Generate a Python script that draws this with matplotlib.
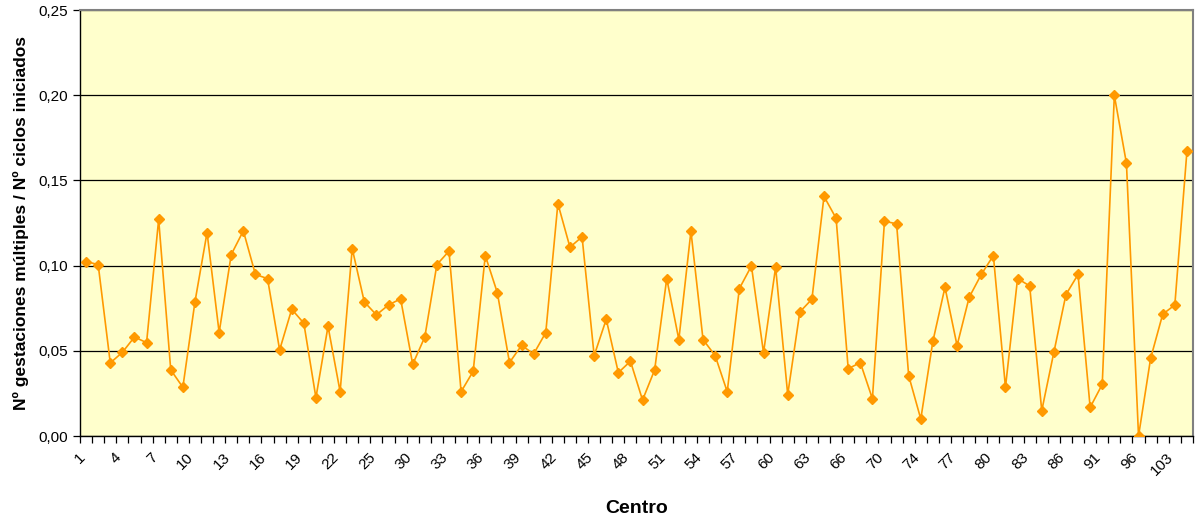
import matplotlib.pyplot as plt
import matplotlib.transforms as mtransforms
from matplotlib.ticker import FuncFormatter, MultipleLocator, FixedLocator

### Data ###
# labels shown on the x axis (Excel shows every third centre)
tick_labels = ["1", "4", "7", "10", "13", "16", "19", "22", "25", "30", "33",
               "36", "39", "42", "45", "48", "51", "54", "57", "60", "63", "66",
               "70", "74", "77", "80", "83", "86", "91", "96", "103"]

ratio = [0.1024, 0.1006, 0.0429, 0.0491, 0.0581, 0.0548, 0.1271, 0.0388,
         0.0286, 0.0787, 0.1194, 0.0607, 0.1065, 0.1204, 0.0948, 0.0924,
         0.0505, 0.0744, 0.0662, 0.0225, 0.0644, 0.0260, 0.1100, 0.0787,
         0.0711, 0.0769, 0.0805, 0.0421, 0.0581, 0.1006, 0.1085, 0.0260,
         0.0380, 0.1059, 0.0840, 0.0431, 0.0532, 0.0482, 0.0607, 0.1364,
         0.1108, 0.1169, 0.0472, 0.0685, 0.0372, 0.0439, 0.0211, 0.0388,
         0.0924, 0.0566, 0.1202, 0.0566, 0.0472, 0.0260, 0.0865, 0.0998,
         0.0489, 0.0991, 0.0243, 0.0728, 0.0803, 0.1406, 0.1278, 0.0395,
         0.0431, 0.0219, 0.1261, 0.1245, 0.0354, 0.0100, 0.0556, 0.0873,
         0.0531, 0.0814, 0.0948, 0.1059, 0.0286, 0.0924, 0.0881, 0.0149,
         0.0491, 0.0830, 0.0948, 0.0168, 0.0303, 0.1999, 0.1601, 0.0000,
         0.0456, 0.0715, 0.0769, 0.1670]
##############

plt.rcParams['font.family'] = ['Liberation Sans', 'DejaVu Sans']

n = len(ratio)
x = list(range(n))

fig = plt.figure(figsize=(11.98, 5.21), dpi=100)
ax = fig.add_axes([0.0668, 0.1631, 0.9290, 0.8177])
ax.set_facecolor("#FFFFCC")

ax.plot(x, ratio, color="#FF9900", lw=1.2, marker="D", ms=5.2,
        markerfacecolor="#FF9900", markeredgecolor="#FF9900", zorder=3)

ax.set_xlim(-0.5, n - 0.5)
ax.set_ylim(0, 0.25)

# y axis
ax.yaxis.set_major_locator(MultipleLocator(0.05))
ax.yaxis.set_major_formatter(FuncFormatter(lambda v, p: f"{v:.2f}".replace(".", ",")))
ax.grid(axis="y", color="black", lw=0.9, zorder=1)

# x axis: ticks between categories, a label on every third one
ax.xaxis.set_major_locator(FixedLocator([i * 3 for i in range(len(tick_labels))]))
ax.set_xticklabels(tick_labels, rotation=45, ha="right", va="top",
                   rotation_mode="anchor", fontsize=11)
ax.tick_params(axis="x", which="major", length=0, pad=10)
shift = mtransforms.ScaledTranslation(-6 / 72, 0, fig.dpi_scale_trans)
for lbl in ax.get_xticklabels():
    lbl.set_transform(lbl.get_transform() + shift)
ax.set_xticks([i - 0.5 for i in range(n + 1)], minor=True)
ax.tick_params(axis="x", which="minor", length=5, direction="out", width=0.9)
ax.tick_params(axis="y", length=5, width=0.9, labelsize=11)

for side in ["top", "right"]:
    ax.spines[side].set_color("#808080")
    ax.spines[side].set_linewidth(1.5)
for side in ["left", "bottom"]:
    ax.spines[side].set_color("black")
    ax.spines[side].set_linewidth(1.0)

ax.set_xlabel("Centro", fontsize=14, fontweight="bold", labelpad=16)
ax.set_ylabel("Nº gestaciones múltiples / Nº ciclos iniciados",
              fontsize=12.5, fontweight="bold", labelpad=7)

fig.savefig("out.png", dpi=100)
